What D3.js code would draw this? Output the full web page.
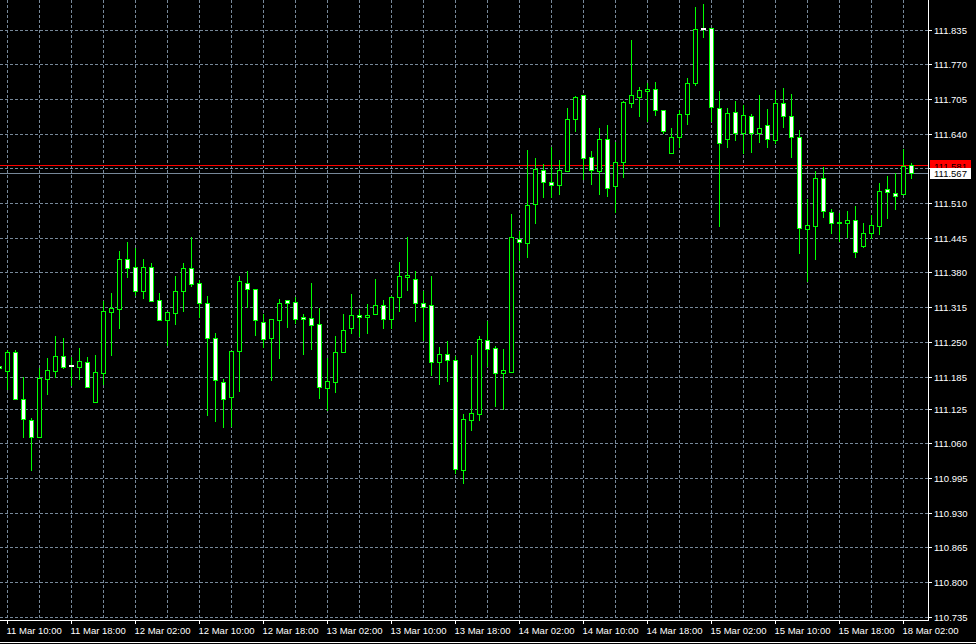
<!DOCTYPE html>
<html><head><meta charset="utf-8">
<script src="https://cdn.jsdelivr.net/npm/d3@7"></script>
<style>html,body{margin:0;padding:0;background:#000;overflow:hidden}</style>
</head><body><svg id="c" width="976" height="644"></svg>
<script>
// ---- DATA (USDJPY, H1) ----
const openP = [111.206,111.197,111.231,111.143,111.104,111.073,111.182,111.197,111.224,111.207,
111.204,111.213,111.139,111.193,111.307,111.312,111.406,111.391,111.347,111.391,
111.329,111.292,111.305,111.347,111.389,111.361,111.323,111.259,111.176,111.147,
111.233,111.362,111.349,111.289,111.259,111.291,111.329,111.325,111.297,111.295,
111.284,111.165,111.176,111.231,111.276,111.301,111.297,111.304,111.319,111.294,
111.334,111.373,111.368,111.323,111.319,111.214,111.229,111.216,111.011,111.105,
111.116,111.254,111.239,111.192,111.195,111.443,111.436,111.510,111.572,111.551,
111.544,111.571,111.668,111.713,111.597,111.571,111.630,111.542,111.588,111.699,
111.710,111.720,111.724,111.686,111.605,111.634,111.677,111.735,111.838,111.839,
111.688,111.630,111.681,111.642,111.673,111.642,111.657,111.629,111.698,111.674,
111.634,111.462,111.468,111.557,111.495,111.474,111.474,111.479,111.431,111.454,
111.468,111.537,111.529,111.527,111.583];
const highP = [111.207,111.236,111.236,111.186,111.108,111.201,111.221,111.261,111.259,111.223,
111.240,111.223,111.226,111.328,111.343,111.421,111.438,111.427,111.406,111.399,
111.342,111.306,111.374,111.399,111.448,111.367,111.337,111.267,111.181,111.233,
111.375,111.384,111.349,111.303,111.293,111.332,111.329,111.334,111.303,111.362,
111.315,111.220,111.262,111.303,111.341,111.312,111.322,111.369,111.329,111.337,
111.400,111.447,111.384,111.346,111.375,111.242,111.253,111.224,111.116,111.226,
111.261,111.290,111.243,111.238,111.490,111.459,111.610,111.596,111.584,111.616,
111.592,111.688,111.711,111.713,111.608,111.652,111.657,111.626,111.702,111.816,
111.728,111.736,111.738,111.686,111.651,111.686,111.746,111.879,111.884,111.839,
111.721,111.689,111.702,111.695,111.677,111.713,111.687,111.723,111.726,111.715,
111.648,111.518,111.570,111.578,111.499,111.492,111.496,111.505,111.473,111.488,
111.549,111.562,111.568,111.612,111.586];
const lowP = [111.200,111.162,111.143,111.073,111.010,111.072,111.153,111.186,111.201,111.170,
111.181,111.167,111.139,111.172,111.226,111.277,111.372,111.339,111.333,111.328,
111.292,111.245,111.284,111.309,111.356,111.297,111.114,111.103,111.091,111.093,
111.159,111.316,111.264,111.242,111.179,111.221,111.279,111.286,111.229,111.238,
111.146,111.123,111.157,111.231,111.268,111.262,111.268,111.304,111.276,111.276,
111.309,111.348,111.290,111.254,111.189,111.172,111.178,111.005,110.987,111.085,
111.105,111.206,111.131,111.125,111.195,111.405,111.409,111.473,111.523,111.522,
111.528,111.570,111.645,111.555,111.547,111.527,111.525,111.495,111.560,111.690,
111.674,111.665,111.676,111.643,111.605,111.615,111.659,111.732,111.822,111.665,
111.468,111.615,111.629,111.604,111.607,111.626,111.615,111.623,111.654,111.598,
111.418,111.365,111.407,111.485,111.454,111.440,111.448,111.409,111.429,111.445,
111.453,111.483,111.500,111.527,111.558];
const closeP = [111.201,111.231,111.143,111.106,111.072,111.183,111.198,111.224,111.204,111.205,
111.215,111.167,111.194,111.308,111.314,111.406,111.389,111.347,111.392,111.328,
111.292,111.306,111.347,111.389,111.359,111.323,111.259,111.179,111.143,111.233,
111.364,111.349,111.291,111.257,111.293,111.323,111.323,111.294,111.293,111.283,
111.167,111.177,111.231,111.274,111.301,111.297,111.301,111.319,111.294,111.334,
111.374,111.376,111.323,111.317,111.213,111.229,111.216,111.013,111.106,111.117,
111.256,111.237,111.192,111.198,111.447,111.437,111.507,111.574,111.551,111.544,
111.572,111.668,111.709,111.595,111.573,111.630,111.540,111.588,111.700,111.713,
111.722,111.724,111.686,111.645,111.634,111.677,111.735,111.836,111.836,111.690,
111.623,111.679,111.642,111.675,111.642,111.652,111.630,111.698,111.673,111.634,
111.464,111.470,111.557,111.496,111.474,111.475,111.480,111.420,111.454,111.470,
111.533,111.531,111.525,111.581,111.567];
// grid levels; the one at 111.575 is hidden behind the bid/ask labels in the reference
const priceTicks = ["111.835","111.770","111.705","111.640","111.575","111.510","111.445","111.380",
"111.315","111.250","111.185","111.125","111.060","110.995","110.930","110.865","110.800","110.735"];
const hiddenTickLabels = ["111.575"];
const timeTicks = ["11 Mar 10:00","11 Mar 18:00","12 Mar 02:00","12 Mar 10:00","12 Mar 18:00",
"13 Mar 02:00","13 Mar 10:00","13 Mar 18:00","14 Mar 02:00","14 Mar 10:00","14 Mar 18:00",
"15 Mar 02:00","15 Mar 10:00","15 Mar 18:00","18 Mar 02:00"];
const bidPrice = 111.567, askPrice = 111.581;

// hourly bar times (market hours, weekend skipped)
const barTimes = [];
{
  let t = Date.UTC(2019, 2, 11, 9, 0);
  while (barTimes.length < openP.length) {
    const d = new Date(t);
    const wd = d.getUTCDay();
    if (wd !== 0 && wd !== 6) barTimes.push(d);
    t += 3600000;
  }
}
const fmt = d3.utcFormat("%d Mar %H:%M");
const bars = openP.map((o, i) => ({i, t: barTimes[i], o, h: highP[i], l: lowP[i], c: closeP[i]}));

// ---- CHART ----
const W = 976, H = 644;
const plotR = 928, plotB = 620;
const GREEN = "#00ff00", GRID = "#778899";
const svg = d3.select("#c");
svg.append("rect").attr("width", W).attr("height", H).attr("fill", "#000");

const x = d3.scaleLinear().domain([0, bars.length - 1]).range([-0.5, -0.5 + 8 * (bars.length - 1)]);
const y = d3.scaleLinear().domain([110.735, 111.835]).range([617.3, 30]);
const px = v => Math.round(v - 0.5) + 0.5;
const py = v => Math.round(y(v) - 0.5) + 0.5;

svg.append("defs").append("clipPath").attr("id", "clip")
  .append("rect").attr("x", 0).attr("y", 0).attr("width", plotR).attr("height", plotB);

const g = svg.append("g").attr("clip-path", "url(#clip)");

// horizontal grid
g.selectAll("line.hg").data(priceTicks).join("line")
  .attr("x1", 0).attr("x2", plotR)
  .attr("y1", d => py(+d)).attr("y2", d => py(+d))
  .attr("stroke", GRID).attr("stroke-width", 1).attr("stroke-dasharray", "3,2");

// vertical grid every 4 bars, aligned with time ticks
const vIdx = bars.filter(b => (b.i - 1) % 4 === 0).map(b => b.i);
g.selectAll("line.vg").data(vIdx).join("line")
  .attr("x1", d => px(x(d))).attr("x2", d => px(x(d)))
  .attr("y1", 0).attr("y2", plotB)
  .attr("stroke", GRID).attr("stroke-width", 1).attr("stroke-dasharray", "3,2");

// bid / ask lines
g.append("line").attr("x1", 0).attr("x2", plotR).attr("y1", py(askPrice)).attr("y2", py(askPrice))
  .attr("stroke", "#ff0000").attr("stroke-width", 1);
g.append("line").attr("x1", 0).attr("x2", plotR).attr("y1", py(bidPrice)).attr("y2", py(bidPrice))
  .attr("stroke", GRID).attr("stroke-width", 1);

// candles
const cg = g.append("g");
cg.selectAll("line.wick").data(bars).join("line")
  .attr("x1", d => px(x(d.i))).attr("x2", d => px(x(d.i)))
  .attr("y1", d => Math.round(y(d.h))).attr("y2", d => Math.round(y(d.l)) + 1)
  .attr("stroke", GREEN).attr("stroke-width", 1);

bars.forEach(d => {
  const cx = px(x(d.i));
  const top = Math.round(y(Math.max(d.o, d.c)));
  const bot = Math.round(y(Math.min(d.o, d.c)));
  if (bot - top < 2) {
    cg.append("rect").attr("x", cx - 2.5).attr("y", top).attr("width", 5).attr("height", Math.max(1, bot - top + 1))
      .attr("fill", d.c < d.o && bot - top >= 1 ? "#fff" : GREEN);
  } else {
    cg.append("rect").attr("x", cx - 2).attr("y", top + 0.5).attr("width", 4).attr("height", bot - top)
      .attr("fill", d.c < d.o ? "#ffffff" : "#000000")
      .attr("stroke", GREEN).attr("stroke-width", 1);
  }
});

// axes lines
svg.append("line").attr("x1", plotR + 0.5).attr("x2", plotR + 0.5).attr("y1", 0).attr("y2", plotB + 1)
  .attr("stroke", "#fff");
svg.append("line").attr("x1", 0).attr("x2", plotR + 1).attr("y1", plotB + 0.5).attr("y2", plotB + 0.5)
  .attr("stroke", "#fff");
svg.append("line").attr("x1", 0).attr("x2", W).attr("y1", H - 1.5).attr("y2", H - 1.5)
  .attr("stroke", "#fff");

// price axis
const font = "'Liberation Sans', Arial, sans-serif";
svg.selectAll("line.yt").data(priceTicks).join("line")
  .attr("x1", plotR + 1).attr("x2", plotR + 4)
  .attr("y1", d => py(+d)).attr("y2", d => py(+d)).attr("stroke", "#fff");
svg.selectAll("text.yl").data(priceTicks.filter(d => !hiddenTickLabels.includes(d))).join("text")
  .attr("x", plotR + 6).attr("y", d => py(+d) + 3.5)
  .attr("fill", "#fff").attr("font-family", font).attr("font-size", "9.5px").text(d => d);

// time axis
const tIdx = timeTicks.map(s => bars.find(b => fmt(b.t) === s)).filter(Boolean);
svg.selectAll("line.xt").data(tIdx).join("line")
  .attr("x1", d => px(x(d.i))).attr("x2", d => px(x(d.i)))
  .attr("y1", plotB + 1).attr("y2", plotB + 4).attr("stroke", "#fff");
svg.selectAll("text.xl").data(tIdx).join("text")
  .attr("x", d => px(x(d.i)) - 1).attr("y", 633.5)
  .attr("fill", "#fff").attr("font-family", font).attr("font-size", "9.5px").text(d => fmt(d.t));

// price labels (ask red, bid white drawn over it)
const ay = y(askPrice), by = y(bidPrice);
svg.append("rect").attr("x", plotR + 2).attr("y", Math.round(ay) - 6).attr("width", 41).attr("height", 12).attr("fill", "#ff0000");
svg.append("text").attr("x", plotR + 6).attr("y", Math.round(ay) + 4).attr("fill", "#000")
  .attr("font-family", font).attr("font-size", "9.5px").text(askPrice.toFixed(3));
svg.append("rect").attr("x", plotR + 2).attr("y", Math.round(by) - 5).attr("width", 41).attr("height", 11).attr("fill", "#ffffff");
svg.append("text").attr("x", plotR + 6).attr("y", Math.round(by) + 3.5).attr("fill", "#000")
  .attr("font-family", font).attr("font-size", "9.5px").text(bidPrice.toFixed(3));
</script></body></html>
